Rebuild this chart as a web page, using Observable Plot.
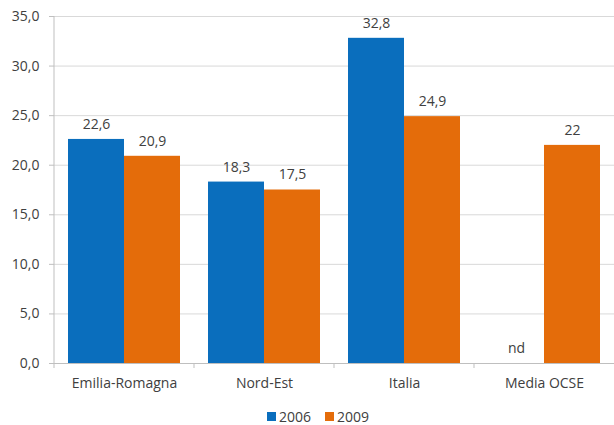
<!DOCTYPE html>
<html>
<head>
<meta charset="utf-8">
<script src="https://cdn.jsdelivr.net/npm/d3@7"></script>
<script src="https://cdn.jsdelivr.net/npm/@observablehq/plot@0.6"></script>
<style>
  body { margin: 0; background: #fff; font-family: "Open Sans", sans-serif; }
  #legend { display: flex; justify-content: center; align-items: center; gap: 14px; font-size: 14px; color: #404040; height: 17px; margin-left: 22px; }
  #legend span.sw { display: inline-block; width: 9px; height: 9px; margin-right: 3px; }
  #legend .item { display: flex; align-items: center; }
</style>
</head>
<body>
<div id="chart"></div>
<div id="legend"></div>
<script>
const categories = ["Emilia-Romagna", "Nord-Est", "Italia", "Media OCSE"];
const years = ["2006", "2009"];
const values2006 = [22.6, 18.3, 32.8, null];
const values2009 = [20.9, 17.5, 24.9, 22];
const labels2006 = ["22,6", "18,3", "32,8", "nd"];
const labels2009 = ["20,9", "17,5", "24,9", "22"];
const yTicks = [0, 5, 10, 15, 20, 25, 30, 35];
const colors = ["#0A6EBD", "#E46C0A"];

const rows = categories.flatMap((c, i) => [
  {cat: c, year: years[0], value: values2006[i], label: labels2006[i]},
  {cat: c, year: years[1], value: values2009[i], label: labels2009[i]}
]);

const W = 614, H = 408;
const plot = Plot.plot({
  width: W,
  height: H,
  marginTop: 16,
  marginBottom: 45,
  marginLeft: 53,
  marginRight: 0,
  style: {fontFamily: "'Open Sans', sans-serif", fontSize: "14px", color: "#404040", background: "#fff"},
  fx: {domain: categories, paddingInner: 0, paddingOuter: 0, label: null},
  x: {domain: years, paddingInner: 0, paddingOuter: 0.25, axis: null},
  y: {domain: [0, 35], label: null},
  color: {domain: years, range: colors},
  marks: [
    Plot.gridY(yTicks, {stroke: "#d9d9d9", strokeOpacity: 1}),
    Plot.barY(rows.filter(d => d.value != null), {fx: "cat", x: "year", y: "value", fill: "year"}),
    Plot.ruleY([0], {stroke: "#bfbfbf"}),
    Plot.text(rows, {fx: "cat", x: "year", y: d => d.value ?? 0, text: "label", dy: -15, fill: "#404040", fontSize: 14}),
    Plot.axisY(yTicks, {tickFormat: d => d.toFixed(1).replace(".", ","), tickSize: 5, tickPadding: 10, stroke: "#bfbfbf", fill: "#404040", fontSize: 14, label: null}),
    Plot.axisFx({anchor: "bottom", tickSize: 0, tickPadding: 15, fill: "#404040", fontSize: 14, label: null})
  ]
});
document.getElementById("chart").appendChild(plot);

// axis line and category boundary ticks
const fx = plot.scale("fx"), y = plot.scale("y");
const svg = d3.select(plot);
const y0 = y.apply(0), y1 = y.apply(35);
const xl = fx.apply(categories[0]);
svg.append("line").attr("x1", xl).attr("x2", xl).attr("y1", y1).attr("y2", y0 + 5).attr("stroke", "#bfbfbf");
categories.slice(1).forEach(c => {
  const xb = fx.apply(c);
  svg.append("line").attr("x1", xb).attr("x2", xb).attr("y1", y0).attr("y2", y0 + 5).attr("stroke", "#bfbfbf");
});

// legend
const legend = d3.select("#legend");
years.forEach((yr, i) => {
  const it = legend.append("div").attr("class", "item");
  it.append("span").attr("class", "sw").style("background", colors[i]);
  it.append("span").text(yr);
});
</script>
</body>
</html>
